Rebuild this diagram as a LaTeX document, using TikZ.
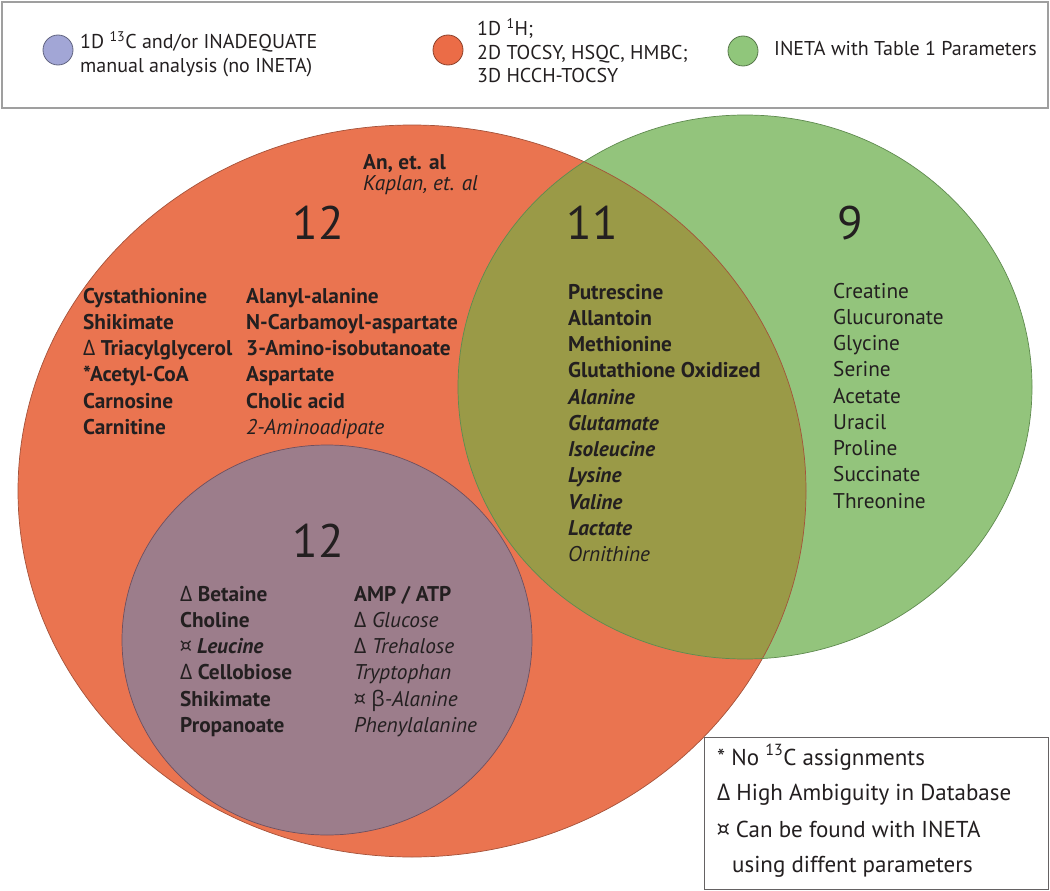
\documentclass[tikz,border=0pt]{standalone}
\usepackage{fontspec}
\setmainfont{PT Sans}
\newfontfamily\grk{Open Sans}
\newcommand{\Dl}{{\grk\mdseries\upshape Δ}}
\newcommand{\Bt}{{\grk\mdseries\upshape β}}
\newcommand{\Cu}{{\mdseries\upshape ¤}}
\definecolor{orangeF}{HTML}{EA7450}
\definecolor{orangeD}{HTML}{A4523A}
\definecolor{greenF}{HTML}{93C47C}
\definecolor{greenD}{HTML}{5F8A4F}
\definecolor{oliveF}{HTML}{9A9A47}
\definecolor{purpF}{HTML}{9C7D8B}
\definecolor{purpD}{HTML}{6E5060}
\definecolor{legP}{HTML}{A2A6D6}
\definecolor{legO}{HTML}{EB6C47}
\definecolor{legG}{HTML}{90C67B}
\definecolor{txt}{HTML}{231F20}
\tikzset{
  lst/.style={anchor=base west, inner sep=0pt, text=txt, font=\fontsize{21.3}{25}\selectfont},
  leg/.style={anchor=base west, inner sep=0pt, text=txt, font=\fontsize{20}{24}\selectfont},
  key/.style={anchor=base west, inner sep=0pt, text=txt, font=\fontsize{23}{27}\selectfont},
  bignum/.style={anchor=base, inner sep=0pt, text=txt, font=\fontsize{47}{50}\selectfont},
  legdot/.style={circle, minimum size=30pt, inner sep=0pt, line width=0.8pt},
}
\begin{document}
\begin{tikzpicture}[x=1pt,y=-1pt]
\useasboundingbox (0,0) rectangle (1050,891);
% top legend box
\node[draw=gray!75, line width=1.8pt, minimum width=1046pt, minimum height=106pt, inner sep=0pt, anchor=north west] (topbox) at (1,1) {};
\node[legdot, fill=legP, draw=legP!60!black] (dotP) at (58,50) {};
\node[leg] (tP1) at (80,49) {1D \textsuperscript{13}C and/or INADEQUATE};
\node[leg] (tP2) at (80,73) {manual analysis (no INETA)};
\node[legdot, fill=legO, draw=legO!60!black] (dotO) at (448,50) {};
\node[leg] (tO1) at (477,36) {1D \textsuperscript{1}H;};
\node[leg] (tO2) at (477,59.5) {2D TOCSY, HSQC, HMBC;};
\node[leg] (tO3) at (477,83) {3D HCCH-TOCSY};
\node[legdot, fill=legG, draw=legG!60!black] (dotG) at (743,51) {};
\node[leg] (tG1) at (774,56) {INETA with Table 1 Parameters};
% Venn sets
\fill[orangeF] (412,491) ellipse [x radius=394pt, y radius=366pt];
\fill[greenF] (745,387) ellipse [x radius=287pt, y radius=272pt];
\begin{scope}
  \clip (412,491) ellipse [x radius=394pt, y radius=366pt];
  \fill[oliveF] (745,387) ellipse [x radius=287pt, y radius=272pt];
\end{scope}
\draw[orangeD, line width=0.7pt] (412,491) ellipse [x radius=394pt, y radius=366pt];
\draw[greenD, line width=0.7pt] (745,387) ellipse [x radius=287pt, y radius=272pt];
\filldraw[fill=purpF, draw=purpD, line width=0.7pt] (327,640) ellipse [x radius=205pt, y radius=195pt];
% numbers
\node[bignum] (nO) at (318.5,239) {12};
\node[bignum] (nOG) at (592.5,239) {11};
\node[bignum] (nG) at (850.5,239) {9};
\node[bignum] (nP) at (318.5,557) {12};
% authors
\node[lst, font=\fontsize{21.3}{25}\selectfont\bfseries] (auth1) at (363,169) {An, et. al};
\node[lst, font=\fontsize{21.3}{25}\selectfont\itshape] (auth2) at (363,190) {Kaplan, et. al};
% orange list column 1
\foreach \t [count=\i from 0] in {{Cystathionine},{Shikimate},{\Dl\ Triacylglycerol},{*Acetyl-CoA},{Carnosine},{Carnitine}}
  \node[lst, font=\fontsize{21.3}{25}\selectfont\bfseries] (oa\i) at (83,{303+26.25*\i}) {\t};
% orange list column 2
\foreach \t [count=\i from 0] in {{Alanyl-alanine},{N-Carbamoyl-aspartate},{3-Amino-isobutanoate},{Aspartate},{Cholic acid},{\mdseries\itshape 2-Aminoadipate}}
  \node[lst, font=\fontsize{21.3}{25}\selectfont\bfseries] (ob\i) at (246,{303+26.25*\i}) {\t};
% intersection list
\foreach \t [count=\i from 0] in {{Putrescine},{Allantoin},{Methionine},{Glutathione Oxidized},{\itshape Alanine},{\itshape Glutamate},{\itshape Isoleucine},{\itshape Lysine},{\itshape Valine},{\itshape Lactate},{\mdseries\itshape Ornithine}}
  \node[lst, font=\fontsize{21.3}{25}\selectfont\bfseries] (og\i) at (568,{299+26.25*\i}) {\t};
% green list
\foreach \t [count=\i from 0] in {Creatine,Glucuronate,Glycine,Serine,Acetate,Uracil,Proline,Succinate,Threonine}
  \node[lst] (g\i) at (833,{298+26.25*\i}) {\t};
% purple list column 1
\foreach \t [count=\i from 0] in {{\Dl\ Betaine},{Choline},{\Cu\ \itshape Leucine},{\Dl\ Cellobiose},{Shikimate},{Propanoate}}
  \node[lst, font=\fontsize{21.3}{25}\selectfont\bfseries] (pa\i) at (180,{601+26.25*\i}) {\t};
% purple list column 2
\foreach \t [count=\i from 0] in {{\bfseries AMP / ATP},{\Dl\ \itshape Glucose},{\Dl\ \itshape Trehalose},{\itshape Tryptophan},{\Cu\ \Bt\itshape -Alanine},{\itshape Phenylalanine}}
  \node[lst] (pb\i) at (354,{601+26.25*\i}) {\t};
% bottom legend
\node[draw=txt!70, line width=1.2pt, fill=white, minimum width=344pt, minimum height=152pt, inner sep=0pt, anchor=north west] (keybox) at (704,737) {};
\node[key] (k1) at (717,765) {* No \textsuperscript{13}C assignments};
\node[key] (k2) at (717,800) {\Dl\ High Ambiguity in Database};
\node[key] (k3) at (717,837) {\Cu\ Can be found with INETA};
\node[key] (k4) at (732,872) {using diffent parameters};
\end{tikzpicture}
\end{document}
